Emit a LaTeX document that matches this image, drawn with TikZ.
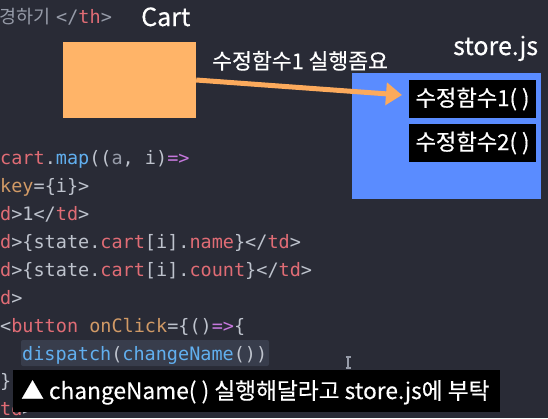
\documentclass[tikz,border=0pt]{standalone}
\usepackage{fontspec}
\usetikzlibrary{arrows.meta}
\newfontfamily\krfont{Noto Sans CJK KR}
\newfontfamily\krheavy[FakeBold=0.4]{Noto Sans CJK KR}
\newfontfamily\codefont{DejaVu Sans Mono}
\definecolor{bg}{RGB}{41,43,54}
\definecolor{codegray}{RGB}{190,195,205}
\definecolor{dimgray}{RGB}{150,155,168}
\definecolor{codered}{RGB}{224,108,117}
\definecolor{codeblue}{RGB}{97,175,239}
\definecolor{codepurple}{RGB}{198,120,221}
\definecolor{codeorange}{RGB}{209,154,102}
\definecolor{boxorange}{RGB}{255,180,104}
\definecolor{arroworange}{RGB}{252,170,92}
\definecolor{boxblue}{RGB}{90,140,255}
\definecolor{selbg}{RGB}{56,61,76}
\newcommand\redc[1]{\textcolor{codered}{#1}}
\newcommand\bluc[1]{\textcolor{codeblue}{#1}}
\newcommand\purc[1]{\textcolor{codepurple}{#1}}
\newcommand\orac[1]{\textcolor{codeorange}{#1}}
\newcommand\dimc[1]{\textcolor{dimgray}{#1}}
\begin{document}
\begin{tikzpicture}[x=1pt,y=-1pt,
  codeline/.style={anchor=base west, inner sep=0pt, text=codegray,
    font=\codefont\fontsize{18.5}{22}\selectfont},
  title/.style={anchor=base west, inner sep=0pt, text=white,
    font=\krheavy\fontsize{25}{30}\selectfont},
  fnbox/.style={fill=black, draw=none, text=white, minimum width=127pt,
    minimum height=38pt, inner sep=0pt, font=\krheavy\fontsize{22.2}{26}\selectfont}]
\useasboundingbox (0,0) rectangle (548,418);
\clip (0,0) rectangle (548,418);
\fill[bg] (0,0) rectangle (548,418);

% top line of code
\node[anchor=base west, inner sep=0pt, text=dimgray, font=\krfont\fontsize{18.5}{22}\selectfont] (hg) at (-1,23) {경하기};
\node[codeline, text=dimgray] (th) at (56,23) {</\redc{th}>};

% titles
\node[title] (cart) at (141,26) {Cart};
\node[title] (storejs) at (453,55) {store.js};

% orange box
\node[fill=boxorange, minimum width=133pt, minimum height=76pt, inner sep=0pt] (ob) at (129.5,80) {};

% blue box
\node[fill=boxblue, minimum width=189pt, minimum height=126pt, inner sep=0pt] (store) at (446.5,136) {};
\node[fnbox] (f1) at (472.5,99) {수정함수1( )};
\node[fnbox] (f2) at (472.5,143) {수정함수2( )};

% arrow
\coordinate (tip) at (402,95);
\draw[arroworange, line width=5pt, -{Triangle[length=16pt,width=22pt]}] (ob.east) -- (tip);
\node[anchor=base west, inner sep=0pt, text=white, font=\krheavy\fontsize{21.6}{25}\selectfont] (albl) at (212,69) {수정함수1 실행좀요};

% code lines
\node[codeline] (l1) at (0,164) {\redc{cart}.\bluc{map}((\dimc{a}, i)\purc{=>}};
\node[codeline] (l2) at (0,192) {\orac{key}=\{i\}>};
\node[codeline] (l3) at (0,220) {\redc{d}>1</\redc{td}>};
\node[codeline] (l4) at (0,248) {\redc{d}>\{state.\redc{cart}[i].\redc{name}\}</\redc{td}>};
\node[codeline] (l5) at (0,276) {\redc{d}>\{state.\redc{cart}[i].\redc{count}\}</\redc{td}>};
\node[codeline] (l6) at (0,304) {\redc{d}>};
\node[codeline] (l7) at (0,332) {<\redc{button} \orac{onClick}=\{()\purc{=>}\{};
\fill[selbg, rounded corners=2pt] (21,340) rectangle (269,366);
\node[codeline] (l8) at (22,360) {\bluc{dispatch}(\bluc{changeName}())};
\node[codeline] (l9) at (0,387) {\}\}};
\node[codeline] (l10) at (0,415) {\redc{td}>};

% mouse cursor (I-beam)
\draw[dimgray, line width=1.2pt] (348,357) -- (348,368)
  (345.5,357) -- (350.5,357) (345.5,368) -- (350.5,368);

% caption
\node[fill=black, minimum width=487pt, minimum height=42pt, inner sep=0pt] (cap) at (256.5,391) {};
\node[anchor=base west, inner sep=0pt, text=white, font=\krheavy\fontsize{22.7}{27}\selectfont] (captxt) at (21,399) {▲ changeName( ) 실행해달라고 store.js에 부탁};
\end{tikzpicture}
\end{document}
